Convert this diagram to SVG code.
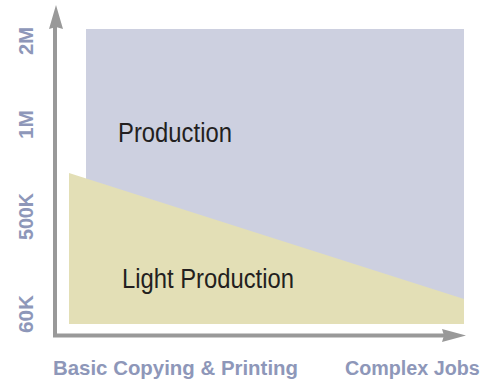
<svg xmlns="http://www.w3.org/2000/svg" width="484" height="381" viewBox="0 0 484 381">
<style>
.axis{stroke:#999999;stroke-width:4;fill:none}
.head{fill:#999999}
.lbl{font-family:"Liberation Sans",Arial,sans-serif;font-weight:bold;fill:#8e97b9;font-size:21px}
.reg{font-family:"Liberation Sans",Arial,sans-serif;fill:#231f20;font-size:27px}
</style>
<rect width="484" height="381" fill="#ffffff"/>
<g id="production">
<rect x="86" y="29" width="378" height="295" fill="#cdd0e0"/>
<text class="reg" x="118" y="142" textLength="114" lengthAdjust="spacingAndGlyphs">Production</text>
</g>
<g id="light-production">
<polygon points="69,173 464,299 464,324 69,324" fill="#e3dfb6"/>
<text class="reg" x="122" y="288" textLength="172" lengthAdjust="spacingAndGlyphs">Light Production</text>
</g>
<g id="axes">
<polyline class="axis" points="55,26 55,335.5 446,335.5"/>
<polygon class="head" points="56,5 63,29 56,27 49,29"/>
<polygon class="head" points="466,335.5 442,342 444,335.5 442,329"/>
</g>
<g id="x-labels">
<text class="lbl" x="53" y="375" textLength="245" lengthAdjust="spacingAndGlyphs">Basic Copying &amp; Printing</text>
<text class="lbl" transform="translate(345,375) scale(0.94,1)">Complex Jobs</text>
</g>
<g id="y-labels">
<text class="lbl" transform="translate(33,55) rotate(-90)" textLength="28" lengthAdjust="spacingAndGlyphs">2M</text>
<text class="lbl" transform="translate(33,139) rotate(-90)" textLength="29" lengthAdjust="spacingAndGlyphs">1M</text>
<text class="lbl" transform="translate(33,240) rotate(-90)" textLength="47" lengthAdjust="spacingAndGlyphs">500K</text>
<text class="lbl" transform="translate(33,333) rotate(-90)" textLength="38" lengthAdjust="spacingAndGlyphs">60K</text>
</g>
</svg>
